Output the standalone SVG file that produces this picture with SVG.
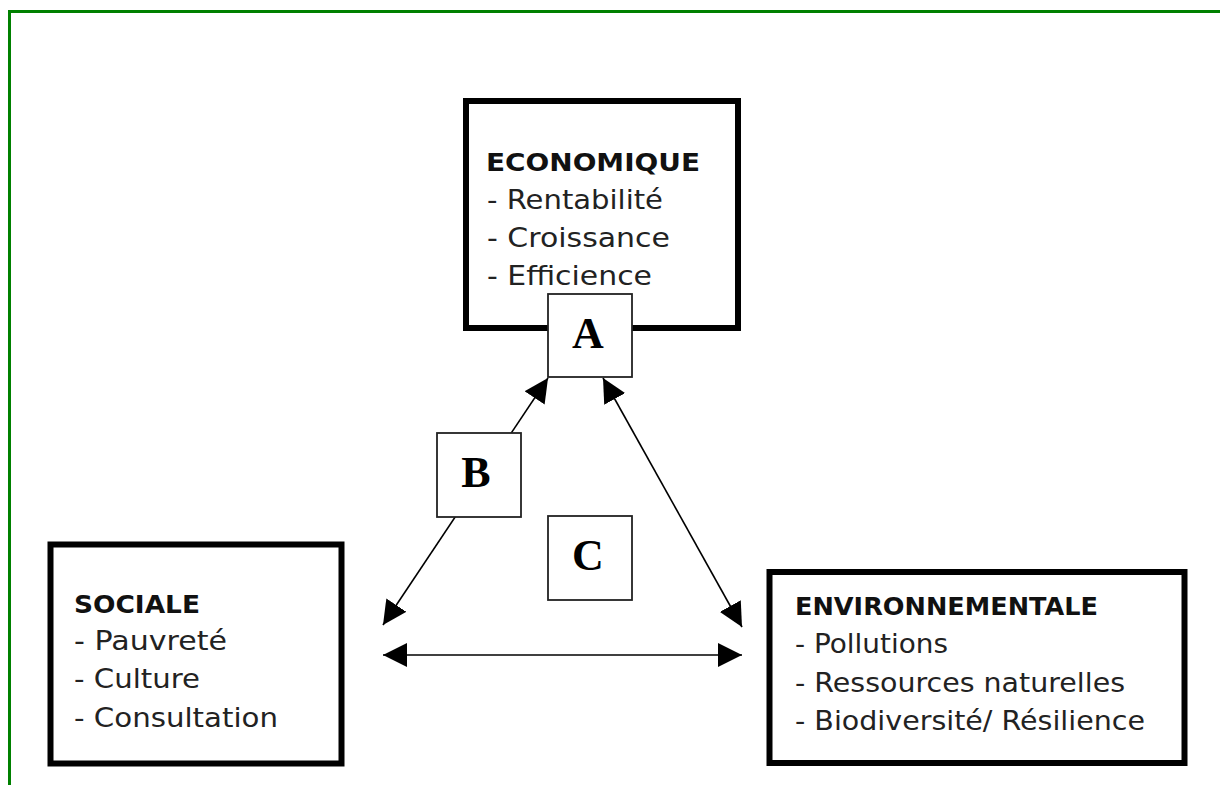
<svg xmlns="http://www.w3.org/2000/svg" width="1220" height="785" viewBox="0 0 1220 785">
<defs>
<style>
.big{fill:#fff;stroke:#000;stroke-width:6}
.small{fill:#fff;stroke:#222;stroke-width:1.8}
.head{font-family:"DejaVu Sans","Liberation Sans",sans-serif;font-weight:bold;font-size:24px;fill:#111}
.item{font-family:"DejaVu Sans","Liberation Sans",sans-serif;font-size:26.5px;fill:#222}
.letter{font-family:"Liberation Serif","DejaVu Serif",serif;font-weight:bold;font-size:44px;fill:#000;text-anchor:middle}
.conn{stroke:#000;stroke-width:1.6;fill:none;marker-start:url(#arr);marker-end:url(#arr)}
</style>
<marker id="arr" markerUnits="userSpaceOnUse" markerWidth="24" markerHeight="24" viewBox="0 0 24 24" refX="24" refY="12" orient="auto-start-reverse">
<path d="M0,0 L24,12 L0,24 z" fill="#000"/>
</marker>
</defs>
<rect width="1220" height="785" fill="#fff"/>
<g id="frame">
<line x1="8" y1="11.5" x2="1220" y2="11.5" stroke="#008000" stroke-width="3"/>
<line x1="9.5" y1="10" x2="9.5" y2="785" stroke="#008000" stroke-width="3"/>
</g>
<g id="economique">
<rect class="big" x="466" y="101" width="272" height="227"/>
<text class="head" x="486" y="171" textLength="214" lengthAdjust="spacingAndGlyphs">ECONOMIQUE</text>
<text class="item" x="487" y="209" textLength="176" lengthAdjust="spacingAndGlyphs">- Rentabilité</text>
<text class="item" x="487" y="247" textLength="183" lengthAdjust="spacingAndGlyphs">- Croissance</text>
<text class="item" x="487" y="285" textLength="165" lengthAdjust="spacingAndGlyphs">- Efficience</text>
</g>
<g id="sociale">
<rect class="big" x="50.5" y="544.5" width="291" height="219"/>
<text class="head" x="74" y="613" textLength="126" lengthAdjust="spacingAndGlyphs">SOCIALE</text>
<text class="item" x="74" y="650" textLength="153" lengthAdjust="spacingAndGlyphs">- Pauvreté</text>
<text class="item" x="74" y="688" textLength="126" lengthAdjust="spacingAndGlyphs">- Culture</text>
<text class="item" x="74" y="727" textLength="204" lengthAdjust="spacingAndGlyphs">- Consultation</text>
</g>
<g id="environnementale">
<rect class="big" x="769.5" y="572" width="415" height="191"/>
<text class="head" x="795" y="615" textLength="303" lengthAdjust="spacingAndGlyphs">ENVIRONNEMENTALE</text>
<text class="item" x="795" y="653" textLength="153" lengthAdjust="spacingAndGlyphs">- Pollutions</text>
<text class="item" x="795" y="692" textLength="330" lengthAdjust="spacingAndGlyphs">- Ressources naturelles</text>
<text class="item" x="795" y="730" textLength="350" lengthAdjust="spacingAndGlyphs">- Biodiversité/ Résilience</text>
</g>
<g id="connectors">
<line class="conn" x1="548" y1="378" x2="383" y2="625"/>
<line class="conn" x1="603" y1="378" x2="742" y2="627"/>
<line class="conn" x1="383" y1="655" x2="742" y2="655"/>
</g>
<g id="A">
<rect class="small" x="548" y="294" width="84" height="83"/>
<text class="letter" x="588" y="348">A</text>
</g>
<g id="B">
<rect class="small" x="437" y="433" width="84" height="84"/>
<text class="letter" x="476" y="487">B</text>
</g>
<g id="C">
<rect class="small" x="548" y="516" width="84" height="84"/>
<text class="letter" x="588" y="570">C</text>
</g>
</svg>
